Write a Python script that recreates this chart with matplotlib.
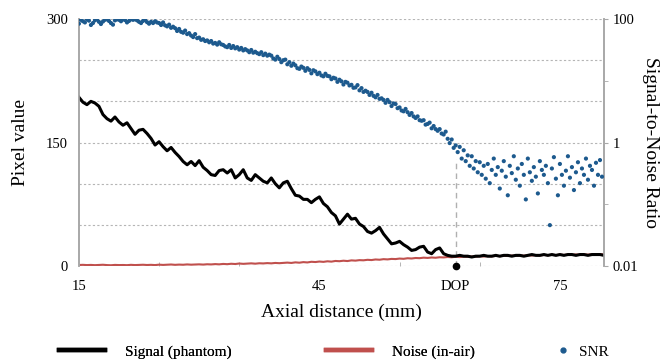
import matplotlib
matplotlib.use("Agg")
import matplotlib.pyplot as plt
import numpy as np
from matplotlib.lines import Line2D

plt.rcParams['font.family'] = ['Liberation Serif', 'DejaVu Serif']

# ===== Data =====
dop = 62.0  # depth of penetration (mm)

# signal in phantom, sampled every 0.5 mm from 15 mm
signal_x = np.arange(15.0, 80.6, 0.5)
signal = [205, 199, 196, 200, 198, 194, 184, 179, 176, 181,
          175, 171, 174, 167, 160, 165, 166, 161, 155, 147,
          151, 145, 140, 144, 138, 133, 127, 123, 127, 122,
          128, 120, 116, 111, 110, 116, 117, 113, 117, 107,
          111, 117, 107, 104, 111, 107, 103, 101, 107, 100,
          95, 101, 103, 94, 86, 85, 81, 81, 77, 81,
          84, 76, 72, 65, 61, 51, 57, 63, 57, 58,
          51, 48, 42, 40, 43, 47, 39, 33, 27, 28,
          30, 26, 23, 19, 20, 23, 24, 17, 15, 20,
          22, 15, 13, 12, 12, 13, 12, 12, 11, 12,
          12, 13, 12, 12, 13, 12, 13, 13, 12, 13,
          13, 12, 13, 14, 13, 13, 14, 13, 14, 13,
          14, 13, 14, 14, 13, 14, 14, 13, 14, 14,
          14, 13]

# noise in air, same sampling
noise = [1.3, 1.5, 1.2, 1.4, 1.1, 1.3, 1.6, 1.2, 1.0, 1.4, 1.2,
         1.3, 1.1, 1.5, 1.2, 1.4, 1.6, 1.3, 1.5, 1.2, 1.7, 1.4, 1.6, 1.9, 1.5, 1.8, 1.6, 2.0, 1.7, 1.9, 2.1,
         1.8, 2.2, 2.0, 2.4, 2.1, 2.6, 2.3, 2.8, 2.5, 3.1, 2.7, 3.0, 3.3, 2.9, 3.4, 3.2, 3.6, 3.3, 3.8, 3.5,
         3.9, 4.2, 3.8, 4.5, 4.1, 4.8, 4.4, 5.2, 4.9, 5.5, 5.1, 5.8, 5.4, 6.2, 5.9, 6.5, 6.1, 6.9, 6.6, 7.2,
         7.0, 7.6, 7.3, 8.0, 7.7, 8.4, 8.1, 8.7, 8.5, 9.1, 8.8, 9.5, 9.2, 9.8, 9.6, 10.2, 9.9, 10.4, 10.1, 10.7,
         10.5, 11.0, 10.7, 11.3, 10.9, 11.5, 11.2, 11.7, 11.4, 12.0, 11.6, 12.1, 11.8, 12.4, 12.0, 12.6, 12.2, 12.8, 12.4, 12.9,
         12.6, 13.1, 12.8, 13.4, 13.0, 13.5, 13.2, 13.7, 13.3, 13.9, 13.5, 14.0, 13.6, 14.1, 13.8, 14.2, 13.9, 14.3, 14.0, 14.4, 14.1]

# SNR, sampled every 0.25 mm from 15 mm
snr_x = np.arange(262) * 0.25 + 15.0
snr = [84, 97, 92, 88, 99, 94, 80, 86, 95, 99, 90, 83, 91, 97, 99, 93,
       86, 81, 95, 99, 97, 92, 99, 96, 88, 93, 99, 97, 99, 95, 90, 86,
       93, 97, 89, 84, 90, 86, 92, 88, 86, 80, 88, 79, 76, 81, 72, 75,
       71, 64, 69, 62, 60, 65, 57, 59, 54, 51, 57, 49, 50, 46, 47, 44,
       45, 42, 44, 40, 41, 38.5, 42, 39, 38, 36, 35, 38, 34, 36.5, 33.5, 35,
       32, 34, 31, 32.5, 31, 29, 31.5, 28.5, 29.5, 28, 27, 29, 26, 27.5, 25.5, 26.5,
       25.5, 23, 22, 24.5, 22.5, 20, 21.5, 22, 18.5, 20, 17.5, 19, 17.8, 16, 15.6, 17,
       16.2, 14.5, 16, 15, 13.2, 14.8, 14.2, 12.8, 13.5, 12.2, 11.8, 13,
       12, 11.8, 10.6, 11.2, 10.9, 9.6, 10.4, 9.8, 8.7, 9.6, 9.3, 8.4,
       8.6, 7.7, 7.8, 8.5, 7.0, 7.6, 6.6, 6.9, 6.6, 5.9, 6.4, 5.7,
       5.4, 5.9, 5.1, 5.2, 4.9, 4.4, 4.9, 4.5, 3.9, 4.3, 4.2, 3.6,
       3.7, 3.3, 3.2, 3.5, 3.1, 2.8, 3.0, 2.65, 2.5, 2.65, 2.3, 2.25,
       2.3, 1.95, 2.0, 2.1, 1.7, 1.85, 1.65, 1.55, 1.65, 1.4, 1.35, 1.5,
       1.15, 0.98, 1.12, 0.82, 0.9, 0.7, 0.85, 0.55, 0.75, 0.5, 0.62, 0.42,
       0.6, 0.38, 0.5, 0.33, 0.48, 0.3, 0.42, 0.26, 0.45, 0.22, 0.36, 0.55,
       0.3, 0.4, 0.18, 0.35, 0.5, 0.28, 0.14, 0.42, 0.32, 0.6, 0.25, 0.38,
       0.2, 0.45, 0.3, 0.12, 0.55, 0.33, 0.24, 0.4, 0.28, 0.15, 0.5, 0.36,
       0.3, 0.42, 0.22, 0.046, 0.38, 0.58, 0.26, 0.14, 0.45, 0.3, 0.2, 0.35,
       0.6, 0.27, 0.4, 0.17, 0.33, 0.48, 0.22, 0.38, 0.3, 0.55, 0.25, 0.42,
       0.36, 0.2, 0.47, 0.3, 0.52, 0.28]

x_ticks = [15, 45, dop, 75]
x_tick_labels = ["15", "45", "DOP", "75"]

# ===== Styling =====
grid_col = "#b5b5b5"
spine_col = "#a8a8a8"
red = "#c0504d"
blue = "#1d5a8e"

fig = plt.figure(figsize=(6.63, 3.62), dpi=100)
ax = fig.add_axes([0.119, 0.265, 0.792, 0.6825])
ax2 = ax.twinx()

ax.plot(signal_x, signal, color="black", lw=2.2, zorder=3)
ax.plot(signal_x, noise, color=red, lw=1.5, zorder=2)
ax.plot([dop, dop], [0, 130], color="#b0b0b0", lw=1, ls=(0, (4, 3)), zorder=1)
ax.plot([dop], [0], "o", color="black", ms=4.5, clip_on=False, zorder=5)

ax2.scatter(snr_x, snr, s=9, color=blue, edgecolors="none", zorder=3)

# ===== Axes =====
ax.set_xlim(15, 80.5)
ax.set_ylim(0, 300)
ax.set_yticks([0, 150, 300])
ax.set_yticks(np.arange(0, 301, 50), minor=True)
ax.yaxis.grid(True, which="both", color=grid_col, ls=(0, (2, 2)), lw=0.8)
ax.set_axisbelow(True)
ax.tick_params(axis="y", which="both", length=0, pad=8, labelsize=10.5)

ax.set_xticks(x_ticks)
ax.set_xticklabels(x_tick_labels)
ax.set_xticks(np.arange(15, 80, 10), minor=True)
ax.tick_params(axis="x", which="major", length=0, pad=10, labelsize=10.5)
ax.tick_params(axis="x", which="minor", length=3, direction="in", color=spine_col)

ax2.set_yscale("log")
ax2.set_ylim(0.01, 100)
ax2.set_yticks([0.01, 1, 100])
ax2.set_yticklabels(["0.01", "1", "100"])
ax2.set_yticks([0.1, 10], minor=True)
ax2.yaxis.set_minor_formatter(plt.NullFormatter())
ax2.tick_params(axis="y", which="both", length=3, pad=3, color=spine_col, labelsize=10.5)

for a in (ax, ax2):
    a.spines["top"].set_visible(False)
    a.spines["bottom"].set_visible(False)
    a.spines["left"].set_color(spine_col)
    a.spines["right"].set_color(spine_col)
    a.spines["left"].set_linewidth(1.2)
    a.spines["right"].set_linewidth(1.2)

ax.set_xlabel("Axial distance (mm)", fontsize=14, labelpad=8)
ax.set_ylabel("Pixel value", fontsize=14, labelpad=12)
ax2.set_ylabel("Signal-to-Noise Ratio", fontsize=14, rotation=270, labelpad=15)

# ===== Legend =====
h_sig = Line2D([], [], color="black", lw=3.2)
h_noise = Line2D([], [], color=red, lw=3.2)
h_snr = Line2D([], [], color=blue, marker="o", ls="none", ms=3.5)
leg1 = fig.legend([h_sig, h_noise], ["Signal (phantom)", "Noise (in-air)"],
                  loc="center left", bbox_to_anchor=(0.068, 0.028), ncol=2, frameon=False,
                  fontsize=11, handlelength=3.0, handletextpad=1.3, columnspacing=6.2)
fig.add_artist(leg1)
fig.legend([h_snr], ["SNR"], loc="center left", bbox_to_anchor=(0.822, 0.028),
           frameon=False, fontsize=11, handlelength=0.6, handletextpad=0.7)

fig.savefig("out.png", dpi=100)
